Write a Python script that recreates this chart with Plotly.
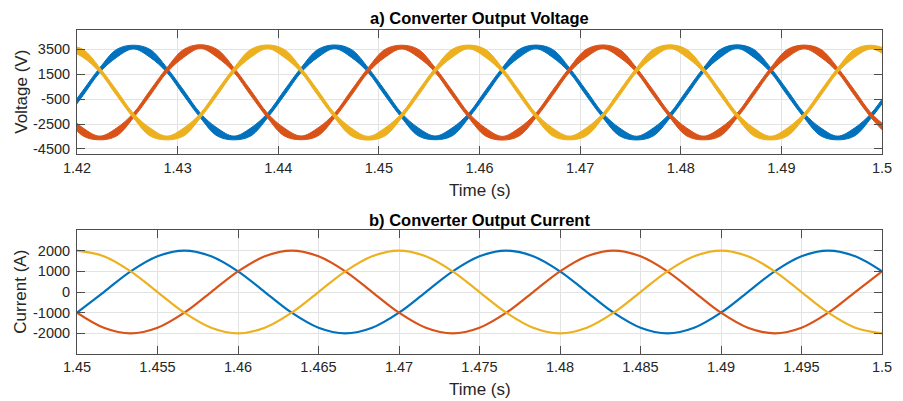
import numpy as np
import plotly.graph_objects as go

# ---------------- data ----------------
# voltage samples: every 1/600 s (30 deg at 50 Hz), first sample just before 1.42 s
V_T0 = 1.4206
V_STEP = 1.0 / 600.0
v_time = V_T0 + np.arange(-1, 49) * V_STEP

va = [-1820,
      0, 1830, 3170, 3680, 3170, 1830, 0, -1820, -3140, -3620, -3140, -1820,
      0, 1830, 3170, 3700, 3170, 1830, 0, -1820, -3140, -3610, -3140, -1820,
      0, 1830, 3170, 3690, 3170, 1830, 0, -1820, -3140, -3630, -3140, -1820,
      0, 1830, 3170, 3710, 3170, 1830, 0, -1820, -3140, -3620, -3140, -1820,
      0]
vb = [-1820, -3140, -3620, -3140, -1820,
      0, 1830, 3170, 3720, 3170, 1830, 0, -1820, -3140, -3610, -3140, -1820,
      0, 1830, 3170, 3680, 3170, 1830, 0, -1820, -3140, -3640, -3140, -1820,
      0, 1830, 3170, 3700, 3170, 1830, 0, -1820, -3140, -3620, -3140, -1820,
      0, 1830, 3170, 3690, 3170, 1830, 0, -1820, -3140]
vc = [3680, 3170, 1830, 0, -1820, -3140, -3620, -3140, -1820,
      0, 1830, 3170, 3700, 3170, 1830, 0, -1820, -3140, -3640, -3140, -1820,
      0, 1830, 3170, 3690, 3170, 1830, 0, -1820, -3140, -3620, -3140, -1820,
      0, 1830, 3170, 3710, 3170, 1830, 0, -1820, -3140, -3630, -3140, -1820,
      0, 1830, 3170, 3680, 3170]

# half-width of the PWM ripple band around each voltage sample
ripple_a = [190,
            210, 190, 320, 150, 320, 190, 210, 190, 320, 150, 320, 190,
            210, 190, 320, 150, 320, 190, 210, 190, 320, 150, 320, 190,
            210, 190, 320, 150, 320, 190, 210, 190, 320, 150, 320, 190,
            210, 190, 320, 150, 320, 190, 210, 190, 320, 150, 320, 190,
            210]
ripple_b = [190, 320, 150, 320, 190,
            210, 190, 320, 150, 320, 190, 210, 190, 320, 150, 320, 190,
            210, 190, 320, 150, 320, 190, 210, 190, 320, 150, 320, 190,
            210, 190, 320, 150, 320, 190, 210, 190, 320, 150, 320, 190,
            210, 190, 320, 150, 320, 190, 210, 190, 320]
ripple_c = [150, 320, 190, 210, 190, 320, 150, 320, 190,
            210, 190, 320, 150, 320, 190, 210, 190, 320, 150, 320, 190,
            210, 190, 320, 150, 320, 190, 210, 190, 320, 150, 320, 190,
            210, 190, 320, 150, 320, 190, 210, 190, 320, 150, 320, 190,
            210, 190, 320, 150, 320]

# current samples: every 1/600 s from 1.45 s
I_T0 = 1.45
I_STEP = 1.0 / 600.0
i_time = I_T0 + np.arange(0, 31) * I_STEP

ia = [-1000, 0, 1000, 1730,
      2000, 1730, 1000, 0, -1000, -1730, -2000, -1730, -1000, 0, 1000, 1730,
      2000, 1730, 1000, 0, -1000, -1730, -2000, -1730, -1000, 0, 1000, 1730,
      2000, 1730, 1000]
ib = [-1000, -1730, -2000, -1730, -1000, 0, 1000, 1730,
      2000, 1730, 1000, 0, -1000, -1730, -2000, -1730, -1000, 0, 1000, 1730,
      2000, 1730, 1000, 0, -1000, -1730, -2000, -1730, -1000, 0, 1000]
ic = [2000, 1730, 1000, 0, -1000, -1730, -2000, -1730, -1000, 0, 1000, 1730,
      2000, 1730, 1000, 0, -1000, -1730, -2000, -1730, -1000, 0, 1000, 1730,
      2000, 1730, 1000, 0, -1000, -1730, -2000]

# axis ticks
v_xticks = [1.42, 1.43, 1.44, 1.45, 1.46, 1.47, 1.48, 1.49, 1.5]
v_xlabels = ["1.42", "1.43", "1.44", "1.45", "1.46", "1.47", "1.48", "1.49", "1.5"]
v_yticks = [-4500, -2500, -500, 1500, 3500]
i_xticks = [1.45, 1.455, 1.46, 1.465, 1.47, 1.475, 1.48, 1.485, 1.49, 1.495, 1.5]
i_xlabels = ["1.45", "1.455", "1.46", "1.465", "1.47", "1.475", "1.48", "1.485",
             "1.49", "1.495", "1.5"]
i_yticks = [-2000, -1000, 0, 1000, 2000]

COLORS = ["#0072BD", "#D95319", "#EDB120"]

# ---------------- figure ----------------
fig = go.Figure()

for vals, rip, col in zip([va, vb, vc], [ripple_a, ripple_b, ripple_c], COLORS):
    vals = np.array(vals, dtype=float)
    rip = np.array(rip, dtype=float)
    fig.add_trace(go.Scatter(x=v_time, y=vals - rip, mode="lines",
                             line=dict(color=col, width=1, shape="spline"),
                             xaxis="x", yaxis="y", showlegend=False,
                             hoverinfo="skip"))
    fig.add_trace(go.Scatter(x=v_time, y=vals + rip, mode="lines",
                             line=dict(color=col, width=1, shape="spline"),
                             fill="tonexty", fillcolor=col,
                             xaxis="x", yaxis="y", showlegend=False,
                             hoverinfo="skip"))

for vals, col in zip([ia, ib, ic], COLORS):
    fig.add_trace(go.Scatter(x=i_time, y=vals, mode="lines",
                             line=dict(color=col, width=2.2, shape="spline"),
                             xaxis="x2", yaxis="y2", showlegend=False))

FONT = "Liberation Sans, Arial, sans-serif"
TXT = "#262626"
axis_common = dict(showline=True, linecolor="#4d4d4d", linewidth=1,
                   mirror="ticks", ticks="inside", ticklen=8,
                   tickcolor="#4d4d4d", tickwidth=1,
                   showgrid=True, gridcolor="#e3e3e3", gridwidth=1,
                   zeroline=False,
                   tickfont=dict(family=FONT, size=14.5, color=TXT))

TOP_DOM = [0.6164, 1.0]
BOT_DOM = [0.0, 0.3827]

# the page places the figure 8 px from the top-left corner
fig.update_layout(
    width=895, height=393,
    margin=dict(l=69, r=11, t=22, b=47),
    paper_bgcolor="white", plot_bgcolor="white",
    font=dict(family=FONT, color=TXT),
    xaxis=dict(domain=[0, 1], anchor="y", range=[1.42, 1.5],
               tickvals=v_xticks, ticktext=v_xlabels, **axis_common),
    yaxis=dict(domain=TOP_DOM, anchor="x", range=[-4930, 5050],
               tickvals=v_yticks, ticktext=[str(v) for v in v_yticks],
               ticklabelstandoff=3, **axis_common),
    xaxis2=dict(domain=[0, 1], anchor="y2", range=[1.45, 1.5],
                tickvals=i_xticks, ticktext=i_xlabels, **axis_common),
    yaxis2=dict(domain=BOT_DOM, anchor="x2", range=[-3000, 3000],
                tickvals=i_yticks, ticktext=[str(v) for v in i_yticks],
                ticklabelstandoff=3, **axis_common),
)

ann = []
def label(text, x, y, size, bold=False, angle=0):
    ann.append(dict(text=f"<b>{text}</b>" if bold else text,
                    x=x, y=y, xref="paper", yref="paper",
                    xanchor="center", yanchor="middle",
                    showarrow=False, textangle=angle,
                    font=dict(family=FONT, size=size,
                              color="#000000" if bold else TXT)))

label("a) Converter Output Voltage", 0.5, 1.037, 16.5, bold=True)
label("Time (s)", 0.5, 0.5031, 17)
label("Voltage (V)", -0.0699, 0.8086, 17, angle=-90)
label("b) Converter Output Current", 0.5, 0.4136, 16.5, bold=True)
label("Time (s)", 0.5, -0.1111, 17)
label("Current (A)", -0.0699, 0.1914, 17, angle=-90)
fig.update_layout(annotations=ann)

fig.write_html("out.html")
